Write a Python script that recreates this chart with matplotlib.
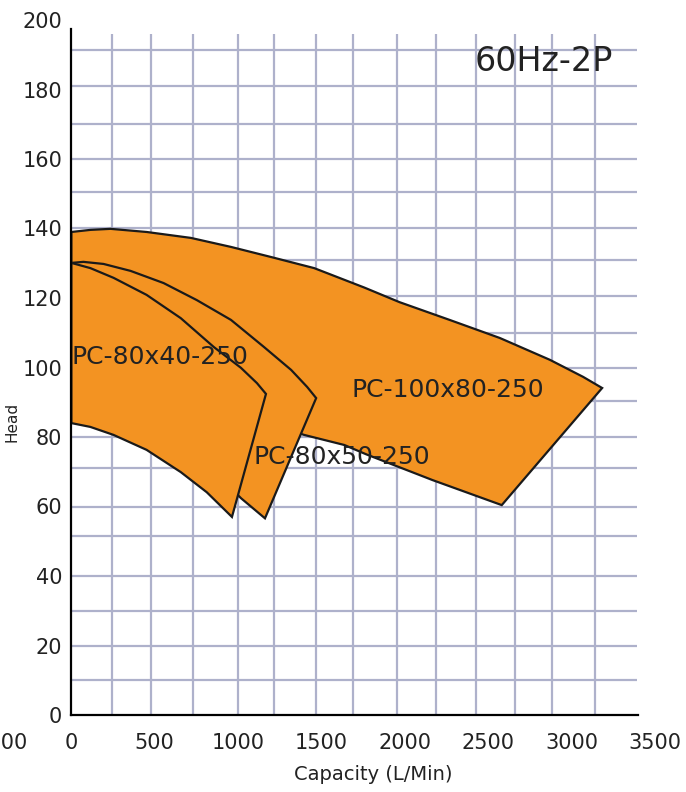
import matplotlib
matplotlib.use("Agg")
import matplotlib.pyplot as plt
from matplotlib.transforms import ScaledTranslation

# capacity (L/min) / head readings taken off the chart outline
big_top_x = [0, 114, 235, 451, 716, 957, 1197, 1456, 1757, 1968, 2268, 2569, 2870, 3069, 3183]
big_top_y = [139.0, 139.6, 139.9, 139.0, 137.3, 134.7, 131.8, 128.6, 123.0, 118.8, 113.7,
             108.5, 102.2, 97.3, 94.1]
big_bot_x = [2581, 2166, 1769, 1637, 1396, 764, 0]
big_bot_y = [60.4, 67.6, 75.0, 77.7, 80.6, 90.0, 96.4]

mid_top_x = [0, 72, 193, 355, 553, 752, 957, 1155, 1318, 1414, 1468]
mid_top_y = [130.1, 130.4, 129.8, 127.8, 124.3, 119.4, 113.7, 105.9, 99.3, 94.4, 91.2]
mid_bot_x = [1161, 1017, 764, 0]
mid_bot_y = [56.6, 62.4, 74.8, 90.6]

small_top_x = [0, 114, 253, 451, 656, 854, 1017, 1113, 1167]
small_top_y = [130.1, 128.6, 125.8, 120.9, 114.2, 105.9, 99.9, 95.5, 92.4]
small_bot_x = [963, 812, 656, 451, 253, 114, 0]
small_bot_y = [57.0, 64.1, 69.9, 76.3, 80.6, 82.9, 84.0]

models = ["PC-100x80-250", "PC-80x50-250", "PC-80x40-250"]
label_x = [1679, 1095, 0]
label_y = [93.5, 74.2, 103.0]

# hand drawn grid, not quite regular
grid_x = [246, 480, 731, 1001, 1217, 1469, 1691, 1954, 2188, 2428, 2662, 2884, 3141]
grid_y = [10, 20, 30, 40, 51.5, 60, 71, 80, 90.3, 99.8, 110, 120.5, 130.8, 140.2,
          150.5, 160, 170, 181, 191.5]

xticks = [-500, 0, 500, 1000, 1500, 2000, 2500, 3000, 3500]
yticks = [0, 20, 40, 60, 80, 100, 120, 140, 160, 180, 200]

ORANGE = "#F39322"
GRID = "#AEB1CB"

fig = plt.figure(figsize=(6.86, 7.92), dpi=100)
ax = fig.add_axes([-12 / 686, 77 / 792, 667 / 686, 695 / 792])
ax.set_xlim(-500, 3500)
ax.set_ylim(0, 200)

ax.vlines(grid_x, 0, 196, color=GRID, lw=1.6, zorder=1)
ax.hlines(grid_y, 0, 3390, color=GRID, lw=1.6, zorder=1)

shapes = [(big_top_x, big_top_y, big_bot_x, big_bot_y),
          (mid_top_x, mid_top_y, mid_bot_x, mid_bot_y),
          (small_top_x, small_top_y, small_bot_x, small_bot_y)]
for i, (tx, ty, bx, by) in enumerate(shapes):
    ax.fill(tx + bx, ty + by, facecolor=ORANGE, edgecolor="#1a1a1a",
            lw=1.6, joinstyle="miter", zorder=2 + i)

for name, x, y in zip(models, label_x, label_y):
    ax.text(x, y, name, fontsize=18, color="#222222", ha="left", va="center", zorder=6)

ax.text(2419, 188, "60Hz-2P", fontsize=24, color="#222222", ha="left", va="center", zorder=6)

for s in ["top", "right"]:
    ax.spines[s].set_visible(False)
ax.spines["left"].set_position(("data", 0))
ax.spines["left"].set_bounds(0, 197.5)
ax.spines["bottom"].set_bounds(0, 3400)
for s in ["left", "bottom"]:
    ax.spines[s].set_linewidth(1.6)
    ax.spines[s].set_zorder(7)

ax.set_xticks(xticks)
ax.set_xticklabels([str(v) for v in xticks])
ax.set_yticks(yticks)
ax.tick_params(axis="both", length=0, labelsize=15, labelcolor="#222222")
ax.tick_params(axis="x", pad=13)
ax.tick_params(axis="y", pad=6.5)

# the leftmost label sits a little closer to 0 in the original, half off the page
first = ax.get_xticklabels()[0]
first.set_transform(first.get_transform() + ScaledTranslation(0.16, 0, fig.dpi_scale_trans))

ax.set_xlabel("Capacity (L/Min)", fontsize=14, color="#222222")
ax.xaxis.set_label_coords(373 / 686, 1 - 765 / 792, transform=fig.transFigure)
ax.set_ylabel("Head", fontsize=11, color="#222222")
ax.yaxis.set_label_coords(19 / 686, 1 - 422 / 792, transform=fig.transFigure)

fig.savefig("out.png", dpi=100)
